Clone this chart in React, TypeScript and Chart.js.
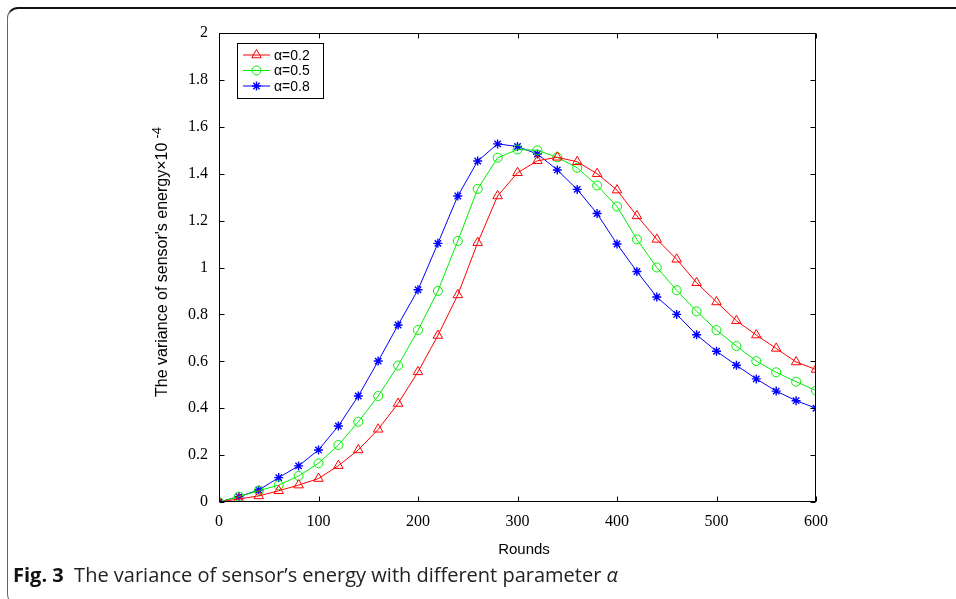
import React, { useEffect, useRef } from "react";
import { Chart, registerables } from "chart.js";
import { drawPoint } from "chart.js/helpers";

Chart.register(...registerables);

const rounds = [0, 20, 40, 60, 80, 100, 120, 140, 160, 180, 200, 220, 240, 260, 280, 300, 320, 340, 360, 380, 400, 420, 440, 460, 480, 500, 520, 540, 560, 580, 600];
const alpha02 = [0, 0.013, 0.026, 0.048, 0.072, 0.1, 0.155, 0.222, 0.31, 0.42, 0.555, 0.71, 0.883, 1.106, 1.305, 1.404, 1.455, 1.47, 1.451, 1.4, 1.33, 1.22, 1.12, 1.035, 0.935, 0.853, 0.773, 0.712, 0.655, 0.597, 0.565];
const alpha05 = [0, 0.023, 0.048, 0.072, 0.111, 0.165, 0.243, 0.342, 0.452, 0.582, 0.733, 0.9, 1.113, 1.335, 1.468, 1.503, 1.5, 1.47, 1.425, 1.35, 1.26, 1.12, 1.0, 0.903, 0.813, 0.733, 0.665, 0.601, 0.553, 0.513, 0.475];
const alpha08 = [0, 0.023, 0.051, 0.104, 0.154, 0.222, 0.324, 0.452, 0.601, 0.755, 0.905, 1.103, 1.305, 1.454, 1.527, 1.516, 1.484, 1.416, 1.333, 1.23, 1.1, 0.983, 0.874, 0.8, 0.713, 0.643, 0.583, 0.525, 0.473, 0.432, 0.4];
const xTicks = [0, 100, 200, 300, 400, 500, 600];
const yTicks = [0, 0.2, 0.4, 0.6, 0.8, 1, 1.2, 1.4, 1.6, 1.8, 2];
const seriesLabels = ["α=0.2", "α=0.5", "α=0.8"];
const seriesColors = ["#ff0000", "#00ee00", "#0000ff"];
const seriesMarkers = ["triangle", "circle", "star"];
const xTitle = "Rounds";
const yTitle = "The variance of sensor's energy×10";
const yTitleExp = "-4";

const decorPlugin = {
  id: "decor",
  afterDraw(chart: any) {
    const { ctx, chartArea: ca, scales } = chart;
    const xs = scales.x;
    const ys = scales.y;
    ctx.save();
    ctx.strokeStyle = "#000";
    ctx.lineWidth = 1;
    const L = Math.round(ca.left) + 0.5;
    const R = Math.round(ca.right) - 0.5;
    const T = Math.round(ca.top) + 0.5;
    const B = Math.round(ca.bottom) - 0.5;
    ctx.strokeRect(L, T, R - L, B - T);
    const tl = 5;
    ctx.beginPath();
    xTicks.forEach((v) => {
      const px = Math.round(xs.getPixelForValue(v)) + 0.5;
      ctx.moveTo(px, B);
      ctx.lineTo(px, B - tl);
      ctx.moveTo(px, T);
      ctx.lineTo(px, T + tl);
    });
    yTicks.forEach((v) => {
      const py = Math.round(ys.getPixelForValue(v)) + 0.5;
      ctx.moveTo(L, py);
      ctx.lineTo(L + tl, py);
      ctx.moveTo(R, py);
      ctx.lineTo(R - tl, py);
    });
    ctx.stroke();

    // legend
    const lx = 237.5, ly = 43.5, lw = 86, lh = 55;
    ctx.fillStyle = "#fff";
    ctx.fillRect(lx, ly, lw, lh);
    ctx.strokeRect(lx, ly, lw, lh);
    const rowY = [55, 70.5, 86];
    chart.data.datasets.forEach((ds: any, i: number) => {
      const y = rowY[i];
      ctx.strokeStyle = ds.borderColor;
      ctx.lineWidth = 1;
      ctx.beginPath();
      ctx.moveTo(243, y);
      ctx.lineTo(270, y);
      ctx.stroke();
      ctx.fillStyle = "rgba(0,0,0,0)";
      ctx.strokeStyle = ds.pointBorderColor;
      ctx.lineWidth = ds.pointBorderWidth;
      drawPoint(ctx, {
        pointStyle: ds.pointStyle,
        radius: ds.pointRadius,
        rotation: 0,
        borderWidth: ds.pointBorderWidth,
      } as any, 256.5, y);
      ctx.fillStyle = "#000";
      ctx.font = "14px 'Liberation Sans', Arial, sans-serif";
      ctx.textAlign = "left";
      ctx.textBaseline = "middle";
      ctx.fillText(ds.label, 274, y + 1);
    });

    // axis titles
    ctx.fillStyle = "#000";
    ctx.font = "15px 'Liberation Sans', Arial, sans-serif";
    ctx.textAlign = "center";
    ctx.textBaseline = "middle";
    ctx.fillText(xTitle, 524, 550);

    ctx.save();
    ctx.translate(167, 262);
    ctx.rotate(-Math.PI / 2);
    ctx.textAlign = "left";
    ctx.textBaseline = "alphabetic";
    ctx.font = "16px 'Liberation Sans', Arial, sans-serif";
    const mw = ctx.measureText(yTitle).width;
    ctx.font = "13px 'Liberation Sans', Arial, sans-serif";
    const ew = ctx.measureText(yTitleExp).width;
    const gap = 4;
    const total = mw + gap + ew;
    ctx.font = "16px 'Liberation Sans', Arial, sans-serif";
    ctx.fillText(yTitle, -total / 2, 0);
    ctx.font = "13px 'Liberation Sans', Arial, sans-serif";
    ctx.fillText(yTitleExp, -total / 2 + mw + gap, -6);
    ctx.restore();

    ctx.restore();
  },
};

export default function App() {
  const canvasRef = useRef<HTMLCanvasElement | null>(null);

  useEffect(() => {
    const canvas = canvasRef.current;
    if (!canvas) return;
    const series = [alpha02, alpha05, alpha08];
    const chart = new Chart(canvas, {
      type: "line",
      data: {
        datasets: series.map((vals, i) => ({
          label: seriesLabels[i],
          data: rounds.map((r, j) => ({ x: r, y: vals[j] })),
          borderColor: seriesColors[i],
          backgroundColor: "rgba(0,0,0,0)",
          borderWidth: 1,
          pointStyle: seriesMarkers[i] as any,
          pointRadius: i === 0 ? 5.5 : 4.5,
          pointBorderWidth: i === 2 ? 1.4 : 1,
          pointBorderColor: seriesColors[i],
          pointBackgroundColor: "rgba(0,0,0,0)",
          tension: 0,
          fill: false,
        })),
      },
      options: {
        animation: false,
        responsive: false,
        events: [],
        layout: { padding: { top: 33, right: 140, left: 0, bottom: 0 } },
        plugins: {
          legend: { display: false },
          tooltip: { enabled: false },
        },
        scales: {
          x: {
            type: "linear",
            min: 0,
            max: 600,
            afterFit: (s: any) => { s.height = 97; },
            afterBuildTicks: (s: any) => { s.ticks = xTicks.map((v) => ({ value: v })); },
            grid: { display: false, drawTicks: false },
            border: { display: false },
            ticks: {
              color: "#000",
              padding: 10,
              maxRotation: 0,
              font: { family: "'Liberation Serif', 'Times New Roman', serif", size: 16 },
              callback: (v: any) => String(v),
            },
          },
          y: {
            type: "linear",
            min: 0,
            max: 2,
            afterFit: (s: any) => { s.width = 219; },
            afterBuildTicks: (s: any) => { s.ticks = yTicks.map((v) => ({ value: v })); },
            grid: { display: false, drawTicks: false },
            border: { display: false },
            ticks: {
              color: "#000",
              padding: 11,
              font: { family: "'Liberation Serif', 'Times New Roman', serif", size: 16 },
              callback: (v: any) => String(Number(Number(v).toFixed(1))),
            },
          },
        },
      },
      plugins: [decorPlugin],
    });
    return () => chart.destroy();
  }, []);

  return (
    <div style={{ position: "fixed", left: 0, top: 0, width: 956, height: 599, background: "#fff", overflow: "hidden" }}>
      <div
        style={{
          position: "absolute",
          left: 7,
          top: 7,
          width: 1000,
          height: 598,
          borderTop: "2px solid #111",
          borderLeft: "1px solid #666",
          borderBottom: "1px solid #666",
          borderRadius: 11,
          boxSizing: "border-box",
        }}
      />
      <canvas ref={canvasRef} width={956} height={599} style={{ position: "absolute", left: 0, top: 0 }} />
      <div
        style={{
          position: "absolute",
          left: 13,
          top: 563,
          fontFamily: "'Open Sans', 'Noto Sans', sans-serif",
          fontSize: 20,
          lineHeight: "24px",
          color: "#222",
          whiteSpace: "nowrap",
        }}
      >
        <span style={{ fontWeight: 700, color: "#111" }}>Fig. 3</span>
        <span>{"\u00a0\u00a0The variance of sensor’s energy with different parameter "}</span>
        <span style={{ fontStyle: "italic" }}>α</span>
      </div>
    </div>
  );
}
